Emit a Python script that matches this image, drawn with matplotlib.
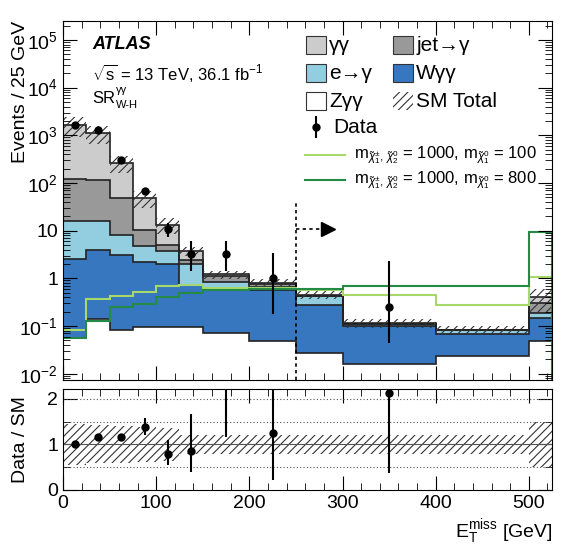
import numpy as np
import matplotlib
matplotlib.use("Agg")
import matplotlib.pyplot as plt
from matplotlib.patches import Rectangle
from matplotlib.ticker import MultipleLocator, LogLocator, NullFormatter

plt.rcParams['font.family'] = ['Liberation Sans', 'DejaVu Sans']
plt.rcParams['mathtext.fontset'] = 'custom'
plt.rcParams['mathtext.rm'] = 'Liberation Sans'
plt.rcParams['mathtext.it'] = 'Liberation Sans:italic'
plt.rcParams['hatch.linewidth'] = 0.8
plt.rcParams['hatch.color'] = '#333333'

edges = np.array([0, 25, 50, 75, 100, 125, 150, 200, 250, 300, 400, 500, 525])

# cumulative stack tops, bottom to top: Zyy, Wyy, e->y, jet->y, yy
zyy_top = np.array([0.056, 0.143, 0.081, 0.095, 0.095, 0.095, 0.073, 0.049, 0.027, 0.016, 0.023, 0.049])
wyy_top = np.array([2.6, 4.0, 3.1, 2.2, 2.0, 0.71, 0.61, 0.56, 0.27, 0.099, 0.067, 0.15])
eg_top = np.array([15.9, 15.9, 8.2, 4.7, 3.7, 2.0, 0.84, 0.66, 0.42, 0.11, 0.081, 0.19])
jet_top = np.array([119, 113, 48, 10.5, 5.1, 2.4, 1.1, 0.75, 0.42, 0.11, 0.081, 0.30])
total = np.array([1670, 1120, 265, 49, 13.3, 3.7, 1.21, 0.80, 0.45, 0.115, 0.083, 0.40])
rel_unc = np.array([0.45, 0.42, 0.40, 0.38, 0.36, 0.2, 0.2, 0.2, 0.2, 0.2, 0.2, 0.5])

sig100 = np.array([0.081, 0.36, 0.43, 0.52, 0.69, 0.74, 0.62, 0.62, 0.56, 0.45, 0.27, 1.07])
sig800 = np.array([0.055, 0.127, 0.25, 0.29, 0.40, 0.49, 0.56, 0.59, 0.59, 0.69, 0.69, 9.3])

data_x = np.array([12.5, 37.5, 62.5, 87.5, 112.5, 137.5, 175, 225, 350])
data_bin = np.array([0, 1, 2, 3, 4, 5, 6, 7, 9])
data_y = np.array([1670, 1310, 309, 68, 10.6, 3.2, 3.2, 1.0, 0.245])
data_lo = np.array([1590, 1240, 290, 58.8, 7.4, 1.42, 1.42, 0.176, 0.043])
data_hi = np.array([1750, 1380, 328, 77, 14.5, 6.2, 6.2, 3.45, 2.3])

ymin = 0.0073
fig = plt.figure(figsize=(5.68, 5.51), dpi=100)
ax = fig.add_axes([0.111, 0.310, 0.861, 0.652])
rax = fig.add_axes([0.111, 0.111, 0.861, 0.183], sharex=ax)

layers = [(ymin, zyy_top, 'white'), (zyy_top, wyy_top, '#3677c0'), (wyy_top, eg_top, '#92cde0'),
          (eg_top, jet_top, '#999999'), (jet_top, total, '#cccccc')]
for bot, top, col in layers:
    ax.stairs(top, edges, baseline=bot, fill=True, facecolor=col, edgecolor='none')
for top in [zyy_top, wyy_top, eg_top, jet_top, total]:
    ax.stairs(top, edges, color='#222222', lw=1.2)
ax.stairs(total * (1 + rel_unc), edges, baseline=total * (1 - rel_unc), fill=True,
          facecolor='none', edgecolor='#333333', lw=0, hatch='////')

ax.stairs(sig100, edges, color='#a6d96a', lw=1.5)
ax.stairs(sig800, edges, color='#238b45', lw=1.5)

ax.errorbar(data_x, data_y, yerr=[data_y - data_lo, data_hi - data_y], fmt='o', color='black',
            ms=5, lw=1.5, capsize=0)

ax.plot([250, 250], [ymin, 43], ls=(0, (2, 2)), color='black', lw=1.2)
ax.plot([250, 282], [10.6, 10.6], ls=(0, (2, 2)), color='black', lw=1.2)
ax.plot([284], [10.6], marker='>', ms=10, color='black')

ax.set_yscale('log')
ax.set_ylim(ymin, 2.5e5)
ax.set_xlim(0, 525)
ax.yaxis.set_major_locator(LogLocator(base=10, numticks=20))
ax.yaxis.set_minor_locator(LogLocator(base=10, subs=np.arange(2, 10), numticks=20))
ax.yaxis.set_minor_formatter(NullFormatter())
ax.set_yticks([1e-2, 1e-1, 1, 10, 1e2, 1e3, 1e4, 1e5])
ax.set_yticklabels(['$10^{-2}$', '$10^{-1}$', '1', '10', '$10^{2}$', '$10^{3}$', '$10^{4}$', '$10^{5}$'])
plt.setp(ax.get_xticklabels(), visible=False)

for a in (ax, rax):
    a.tick_params(which='both', direction='in', top=True, right=True, labelsize=14)
    a.tick_params(which='major', length=10)
    a.tick_params(which='minor', length=5)
    a.xaxis.set_major_locator(MultipleLocator(100))
    a.xaxis.set_minor_locator(MultipleLocator(20))

ax.set_ylabel('Events / 25 GeV', fontsize=14, loc='top')
ax.yaxis.set_label_coords(-0.07, 1.0)

# text
ax.text(0.06, 0.935, 'ATLAS', transform=ax.transAxes, fontsize=13, weight='bold', style='italic', va='center')
ax.text(0.06, 0.855, r'$\sqrt{\rm s}$ = 13 TeV, 36.1 fb$^{-1}$', transform=ax.transAxes, fontsize=12, va='center')
ax.text(0.06, 0.785, 'SR', transform=ax.transAxes, fontsize=12, va='center')
ax.text(0.108, 0.808, 'γγ', transform=ax.transAxes, fontsize=8, va='center')
ax.text(0.108, 0.765, 'W-H', transform=ax.transAxes, fontsize=8, va='center')

# legend
def fx(x):
    return (x - 63) / 489.0

def fy(y):
    return (380 - y) / 359.3

boxes = [(306, 45, '#cccccc', None, 'γγ'), (393, 45, '#999999', None, 'jet→γ'),
         (306, 73, '#92cde0', None, 'e→γ'), (393, 73, '#3677c0', None, 'Wγγ'),
         (306, 101, 'white', None, 'Zγγ'), (393, 101, 'none', '////', 'SM Total')]
for x, y, col, h, lab in boxes:
    ax.add_patch(Rectangle((fx(x), fy(y + 9)), 20 / 489.0, 18 / 359.3, transform=ax.transAxes,
                           facecolor=col, edgecolor='#333333', lw=0.8 if h is None else 0, hatch=h))
    ax.text(fx(x + 23), fy(y), lab, transform=ax.transAxes, fontsize=15, va='center')
ax.errorbar([fx(316)], [fy(127)], yerr=[[0.03]], fmt='o', color='black', ms=5, lw=1.5, transform=ax.transAxes)
ax.text(fx(333), fy(127), 'Data', transform=ax.transAxes, fontsize=15, va='center')
for y, col, m in [(155, '#a6d96a', '100'), (180, '#238b45', '800')]:
    ax.plot([fx(305), fx(345)], [fy(y), fy(y)], color=col, lw=1.5, transform=ax.transAxes)
    ax.text(fx(354), fy(y), r'm$_{\tilde{\chi}^{\pm}_{1},\,\tilde{\chi}^{0}_{2}}$ = 1000, m$_{\tilde{\chi}^{0}_{1}}$ = ' + m,
            transform=ax.transAxes, fontsize=12, va='center')

# ratio panel
rax.stairs(1 + rel_unc, edges, baseline=1 - rel_unc, fill=True, facecolor='none', edgecolor='#333333',
           lw=0, hatch='////')
for yl in [0.5, 1.5, 2.0]:
    rax.axhline(yl, color='#555555', ls=(0, (1, 2)), lw=0.8)
rax.axhline(1, color='#555555', lw=0.8)
tot_d = total[data_bin]
ratio = data_y / tot_d
rax.errorbar(data_x, ratio, yerr=[(data_y - data_lo) / tot_d, (data_hi - data_y) / tot_d], fmt='o',
             color='black', ms=5, lw=1.5, capsize=0)
rax.set_ylim(0, 2.22)
rax.set_yticks([0, 1, 2])
rax.yaxis.set_minor_locator(MultipleLocator(0.5))
rax.set_ylabel('Data / SM', fontsize=14)
rax.yaxis.set_label_coords(-0.07, 0.5)
rax.set_xlabel(r'E$_{\rm T}^{\rm miss}$ [GeV]', fontsize=14, loc='right')

fig.savefig('out.png', dpi=100)
